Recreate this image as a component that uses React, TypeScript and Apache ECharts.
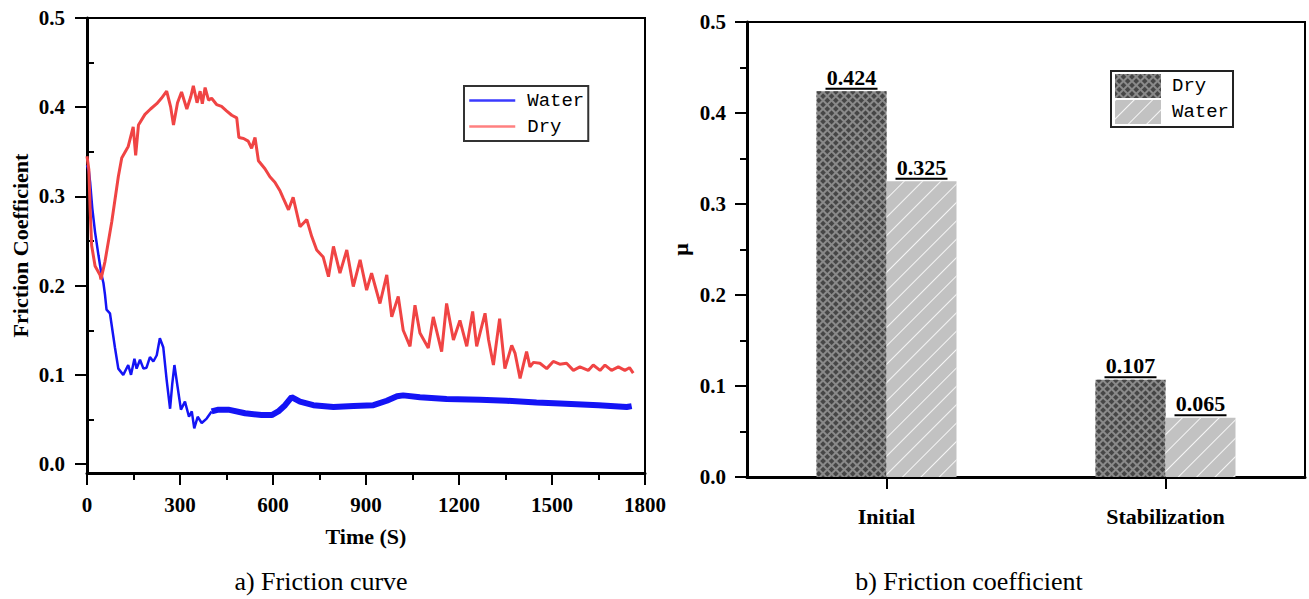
import React, { useEffect, useRef } from "react";
import * as echarts from "echarts";

// ---- Data: friction curve ----
const dryTime = [0, 6, 10, 15, 26, 42, 45, 58, 80, 101, 112, 133, 149, 157, 166, 187, 205, 225, 240, 257, 270, 279, 292, 305, 322, 335, 343, 355, 365, 372, 381, 392, 402, 418, 434, 450, 467, 483, 490, 505, 520, 531, 542, 553, 574, 590, 606, 623, 633, 650, 665, 687, 709, 725, 741, 762, 779, 795, 816, 838, 859, 881, 902, 918, 945, 967, 983, 1004, 1020, 1042, 1058, 1074, 1101, 1117, 1144, 1160, 1182, 1203, 1225, 1244, 1257, 1268, 1284, 1295, 1311, 1331, 1348, 1370, 1381, 1397, 1418, 1429, 1440, 1461, 1483, 1504, 1525, 1547, 1569, 1590, 1617, 1633, 1655, 1671, 1692, 1714, 1735, 1750, 1762];
const dryValue = [0.345, 0.33, 0.287, 0.245, 0.222, 0.212, 0.207, 0.227, 0.272, 0.322, 0.343, 0.356, 0.378, 0.346, 0.38, 0.392, 0.398, 0.404, 0.41, 0.418, 0.4, 0.38, 0.405, 0.417, 0.398, 0.412, 0.424, 0.405, 0.418, 0.404, 0.422, 0.408, 0.41, 0.403, 0.401, 0.396, 0.391, 0.388, 0.366, 0.365, 0.362, 0.354, 0.366, 0.34, 0.331, 0.322, 0.316, 0.306, 0.298, 0.285, 0.299, 0.266, 0.274, 0.255, 0.24, 0.232, 0.21, 0.244, 0.214, 0.24, 0.199, 0.229, 0.195, 0.214, 0.18, 0.212, 0.165, 0.188, 0.15, 0.132, 0.178, 0.147, 0.13, 0.165, 0.126, 0.18, 0.139, 0.161, 0.132, 0.171, 0.132, 0.147, 0.169, 0.14, 0.111, 0.163, 0.107, 0.133, 0.124, 0.096, 0.126, 0.109, 0.114, 0.113, 0.107, 0.115, 0.112, 0.113, 0.105, 0.109, 0.105, 0.111, 0.105, 0.111, 0.105, 0.109, 0.105, 0.108, 0.102];

const waterEarlyTime = [0, 6, 10, 17, 26, 37, 47, 53, 58, 63, 74, 90, 101, 117, 133, 142, 153, 160, 171, 182, 192, 203, 214, 225, 235, 246, 257, 268, 275, 282, 292, 303, 316, 329, 338, 346, 357, 370, 386, 402];
const waterEarlyValue = [0.335, 0.328, 0.316, 0.287, 0.26, 0.234, 0.212, 0.203, 0.19, 0.173, 0.169, 0.131, 0.107, 0.1, 0.111, 0.1, 0.118, 0.107, 0.117, 0.107, 0.108, 0.12, 0.115, 0.122, 0.141, 0.131, 0.094, 0.062, 0.09, 0.111, 0.087, 0.061, 0.07, 0.053, 0.059, 0.04, 0.053, 0.046, 0.051, 0.059];

const waterLateTime = [402, 424, 456, 510, 563, 596, 617, 639, 660, 687, 730, 795, 860, 924, 967, 1000, 1020, 1074, 1160, 1268, 1354, 1450, 1526, 1650, 1741, 1757];
const waterLateValue = [0.059, 0.061, 0.061, 0.057, 0.055, 0.055, 0.059, 0.066, 0.075, 0.07, 0.066, 0.064, 0.065, 0.066, 0.071, 0.076, 0.077, 0.075, 0.073, 0.072, 0.071, 0.069, 0.068, 0.066, 0.064, 0.065];

const leftYTicks = [0, 0.1, 0.2, 0.3, 0.4, 0.5];
const leftYMinorTicks = [0.05, 0.15, 0.25, 0.35, 0.45];

// ---- Data: friction coefficient bars ----
const categories = ["Initial", "Stabilization"];
const dryBars = [0.424, 0.107];
const waterBars = [0.325, 0.065];

const SERIF = '"Liberation Serif", "Times New Roman", serif';
const MONO = '"Liberation Mono", "DejaVu Sans Mono", monospace';

const zip = (t: number[], v: number[]) => t.map((x, i) => [x, v[i]]);

export default function App() {
  const ref = useRef<HTMLDivElement>(null);
  useEffect(() => {
    document.body.style.margin = "0";
    const chart = echarts.init(ref.current!, null, { renderer: "svg" });
    const axisLine = { show: true, onZero: false, lineStyle: { color: "#000", width: 3 } };
    const tick = { show: true, length: 12, lineStyle: { color: "#000", width: 2 } };
    const minor = { show: true, splitNumber: 2, length: 7, lineStyle: { color: "#000", width: 2 } };
    const lbl = { color: "#000", fontSize: 21, fontWeight: "bold", fontFamily: SERIF };
    const nameStyle = { color: "#000", fontSize: 22, fontWeight: "bold", fontFamily: SERIF };
    const barLabel = {
      show: true,
      position: "top",
      distance: 1,
      formatter: (p: any) => `{v|${Number(p.value).toFixed(3)}}\n{u|}`,
      rich: {
        v: { fontSize: 22, fontWeight: "bold", fontFamily: SERIF, color: "#000", lineHeight: 20, align: "center" },
        u: { width: 52, height: 2, lineHeight: 3, backgroundColor: "#000", align: "center" },
      },
    };
    const option: any = {
      animation: false,
      textStyle: { fontFamily: SERIF },
      grid: [
        { left: 87, top: 18, width: 558, height: 455, show: true, borderColor: "#000", borderWidth: 2 },
        { left: 747, top: 22, width: 558, height: 455, show: true, borderColor: "#000", borderWidth: 2 },
      ],
      xAxis: [
        {
          gridIndex: 0,
          type: "value",
          min: 0,
          max: 1800,
          interval: 300,
          axisLine,
          axisTick: tick,
          minorTick: minor,
          splitLine: { show: false },
          axisLabel: { ...lbl, margin: 21, showMinLabel: true, showMaxLabel: true, formatter: (v: number) => String(v) },
          name: "Time (S)",
          nameLocation: "middle",
          nameGap: 52,
          nameTextStyle: nameStyle,
        },
        {
          gridIndex: 1,
          type: "category",
          data: categories,
          axisLine,
          axisTick: { ...tick, alignWithLabel: true },
          splitLine: { show: false },
          axisLabel: { ...nameStyle, margin: 28 },
        },
      ],
      yAxis: [
        {
          gridIndex: 0,
          type: "value",
          min: -0.01,
          max: 0.5,
          axisLine,
          axisTick: { ...tick, customValues: leftYTicks },
          splitLine: { show: false },
          axisLabel: { ...lbl, margin: 22, customValues: leftYTicks, formatter: (v: number) => v.toFixed(1) },
          name: "Friction Coefficient",
          nameLocation: "middle",
          nameGap: 56,
          nameTextStyle: nameStyle,
        },
        {
          gridIndex: 0,
          type: "value",
          min: -0.01,
          max: 0.5,
          axisLine: { show: false },
          axisTick: { show: true, length: 7, lineStyle: { color: "#000", width: 2 }, customValues: leftYMinorTicks },
          splitLine: { show: false },
          axisLabel: { show: false },
        },
        {
          gridIndex: 1,
          type: "value",
          min: 0,
          max: 0.5,
          interval: 0.1,
          axisLine,
          axisTick: tick,
          minorTick: minor,
          splitLine: { show: false },
          axisLabel: { ...lbl, margin: 21, formatter: (v: number) => v.toFixed(1) },
          name: "μ",
          nameLocation: "middle",
          nameGap: 56,
          nameTextStyle: nameStyle,
        },
      ],
      legend: [
        {
          orient: "vertical",
          left: 464,
          top: 86,
          padding: [5, 4, 5, 4],
          itemWidth: 46,
          itemHeight: 20,
          itemGap: 7,
          borderColor: "#333",
          borderWidth: 2,
          selectedMode: false,
          itemStyle: { opacity: 0 },
          textStyle: { fontFamily: MONO, fontSize: 19, color: "#000", padding: [0, 0, 0, 7] },
          data: [
            { name: "Water", itemStyle: { opacity: 0 }, lineStyle: { color: "#3a3aff", width: 2.5, opacity: 1 } },
            { name: "Dry", itemStyle: { opacity: 0 }, lineStyle: { color: "#ff8080", width: 2.5, opacity: 1 } },
          ],
        },
        {
          orient: "vertical",
          left: 1111,
          top: 71,
          padding: [3, 4, 3, 4],
          itemWidth: 46,
          itemHeight: 24,
          itemGap: 2,
          icon: "rect",
          borderColor: "#222",
          borderWidth: 2,
          selectedMode: false,
          formatter: (n: string) => (n === "barDry" ? "Dry" : "Water"),
          textStyle: { fontFamily: MONO, fontSize: 19, color: "#000", padding: [0, 0, 0, 6] },
          data: ["barDry", "barWater"],
        },
      ],
      series: [
        {
          name: "Water",
          type: "line",
          xAxisIndex: 0,
          yAxisIndex: 0,
          symbol: "none",
          data: zip(waterEarlyTime, waterEarlyValue),
          lineStyle: { color: "#1414f5", width: 2.5 },
          itemStyle: { color: "#1414f5" },
        },
        {
          name: "Water",
          type: "line",
          xAxisIndex: 0,
          yAxisIndex: 0,
          symbol: "none",
          data: zip(waterLateTime, waterLateValue),
          lineStyle: { color: "#1414f5", width: 6 },
          itemStyle: { color: "#1414f5" },
        },
        {
          name: "Dry",
          type: "line",
          xAxisIndex: 0,
          yAxisIndex: 0,
          symbol: "none",
          data: zip(dryTime, dryValue),
          lineStyle: { color: "#f04444", width: 3 },
          itemStyle: { color: "#f04444" },
        },
        {
          name: "barDry",
          type: "bar",
          xAxisIndex: 1,
          yAxisIndex: 2,
          barWidth: 70,
          barGap: "0%",
          data: dryBars,
          label: barLabel,
          itemStyle: {
            color: "#8a8a8a",
            decal: { symbol: "rect", symbolSize: 1, dashArrayX: [4, 1.2], dashArrayY: [4, 1.2], rotation: Math.PI / 4, color: "#464646" },
          },
        },
        {
          name: "barWater",
          type: "bar",
          xAxisIndex: 1,
          yAxisIndex: 2,
          barWidth: 70,
          barGap: "0%",
          data: waterBars,
          label: barLabel,
          itemStyle: {
            color: "#c2c2c2",
            decal: { symbol: "rect", symbolSize: 1, dashArrayX: [1, 0], dashArrayY: [1, 12], rotation: -Math.PI / 4, color: "rgba(255,255,255,0.85)" },
          },
        },
      ],
      graphic: [
        { type: "text", x: 321, y: 581, style: { text: "a) Friction curve", fontSize: 26, fontFamily: SERIF, fill: "#000", textAlign: "center", textVerticalAlign: "middle" } },
        { type: "text", x: 969, y: 581, style: { text: "b) Friction coefficient", fontSize: 26, fontFamily: SERIF, fill: "#000", textAlign: "center", textVerticalAlign: "middle" } },
      ],
    };
    chart.setOption(option);
    return () => chart.dispose();
  }, []);
  return <div ref={ref} style={{ position: "absolute", left: 0, top: 0, width: 1309, height: 599 }} />;
}
